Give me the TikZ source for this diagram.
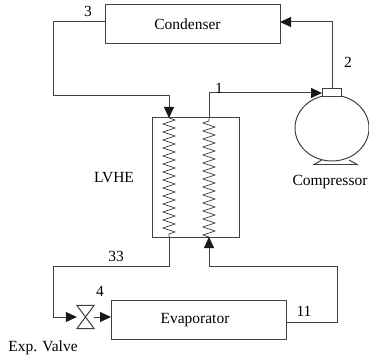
\documentclass[tikz,border=0pt]{standalone}
\usepackage{fontspec}
\setmainfont{Liberation Serif}
\usetikzlibrary{arrows.meta,decorations.pathmorphing,shapes.geometric}
\tikzset{
    pipe/.style = {draw = black!75, line width = 1pt},
    flow/.style = {pipe, -{Triangle[length = 11pt, width = 10pt, color = black!90]}},
    unit/.style = {draw = black!75, line width = 1pt, inner sep = 0pt},
    coil/.style = {draw = black!75, line width = 0.7pt, xshift = 6pt, decorate, decoration = {zigzag, amplitude = 6pt, segment length = 8pt}},
    tag/.style = {font = \fontsize{15.5pt}{18pt}\selectfont, inner sep = 0pt}
}
\begin{document}
\begin{tikzpicture}[x = 1pt, y = -1pt]
        \useasboundingbox (0, 0) rectangle (369, 358);
        \node[unit, minimum width = 175pt, minimum height = 39pt] (condenser) at (192.5, 24.5) {};
        \node[tag] at (187.5, 24) {Condenser};
        \node[unit, minimum width = 87pt, minimum height = 119pt] (lvhe) at (195.5, 177.5) {};
        \node[unit, minimum width = 175pt, minimum height = 39pt] (evaporator) at (198.5, 319.5) {};
        \node[tag] at (195, 320.5) {Evaporator};
        \node[unit, ellipse, minimum width = 74pt, minimum height = 66pt] (compressor) at (332, 128) {};
        \node[unit, fill = white, minimum width = 19pt, minimum height = 8pt] (port) at (332, 93) {};
        \node[inner sep = 0pt, minimum width = 17pt, minimum height = 23pt] (valve) at (85.5, 317) {};
        \draw[unit] (valve.north west) -- (valve.south east) -- (valve.south west) -- (valve.north east) -- cycle;

        % base of the compressor
        \draw[unit] (313, 165) -- (358, 165);
        \draw[unit] (313, 165) -- (322, 160);
        \draw[unit] (358, 165) -- (349, 160);

        % coils in the exchanger
        \coordinate (hotin) at (169, 118);
        \coordinate (hotout) at (169, 237);
        \coordinate (coldin) at (209, 237);
        \coordinate (coldout) at (209, 118);
        \draw[coil] (hotin) -- (hotout);
        \draw[coil] (coldin) -- (coldout);

        % piping
        \coordinate (condin) at (280, 22);
        \coordinate (condout) at (105, 22);
        \coordinate (evapin) at (111, 317);
        \coordinate (evapout) at (286, 322);
        \coordinate (bendtop) at (53, 96);
        \coordinate (bendleft) at (53, 266);
        \coordinate (bendright) at (337, 266);
        \draw[flow] (port.north) |- (condin);
        \draw[flow] (condout) -| (bendtop) -| (hotin);
        \draw[flow] (coldout) |- (port.west);
        \draw[flow] (hotout) |- (bendleft) |- (valve.west);
        \draw[flow] (valve.east) -- (evapin);
        \draw[flow] (evapout) -| (bendright) -| (coldin);

        \node[tag] at (88, 11) {3};
        \node[tag] at (348, 62) {2};
        \node[tag] at (219, 88) {1};
        \node[tag] at (114, 178) {LVHE};
        \node[tag] at (116, 256) {33};
        \node[tag] at (100, 291) {4};
        \node[tag] at (304, 311) {11};
        \node[tag] at (43, 348) {Exp. Valve};
        \node[tag] at (330, 182) {Compressor};
    \end{tikzpicture}
\end{document}
